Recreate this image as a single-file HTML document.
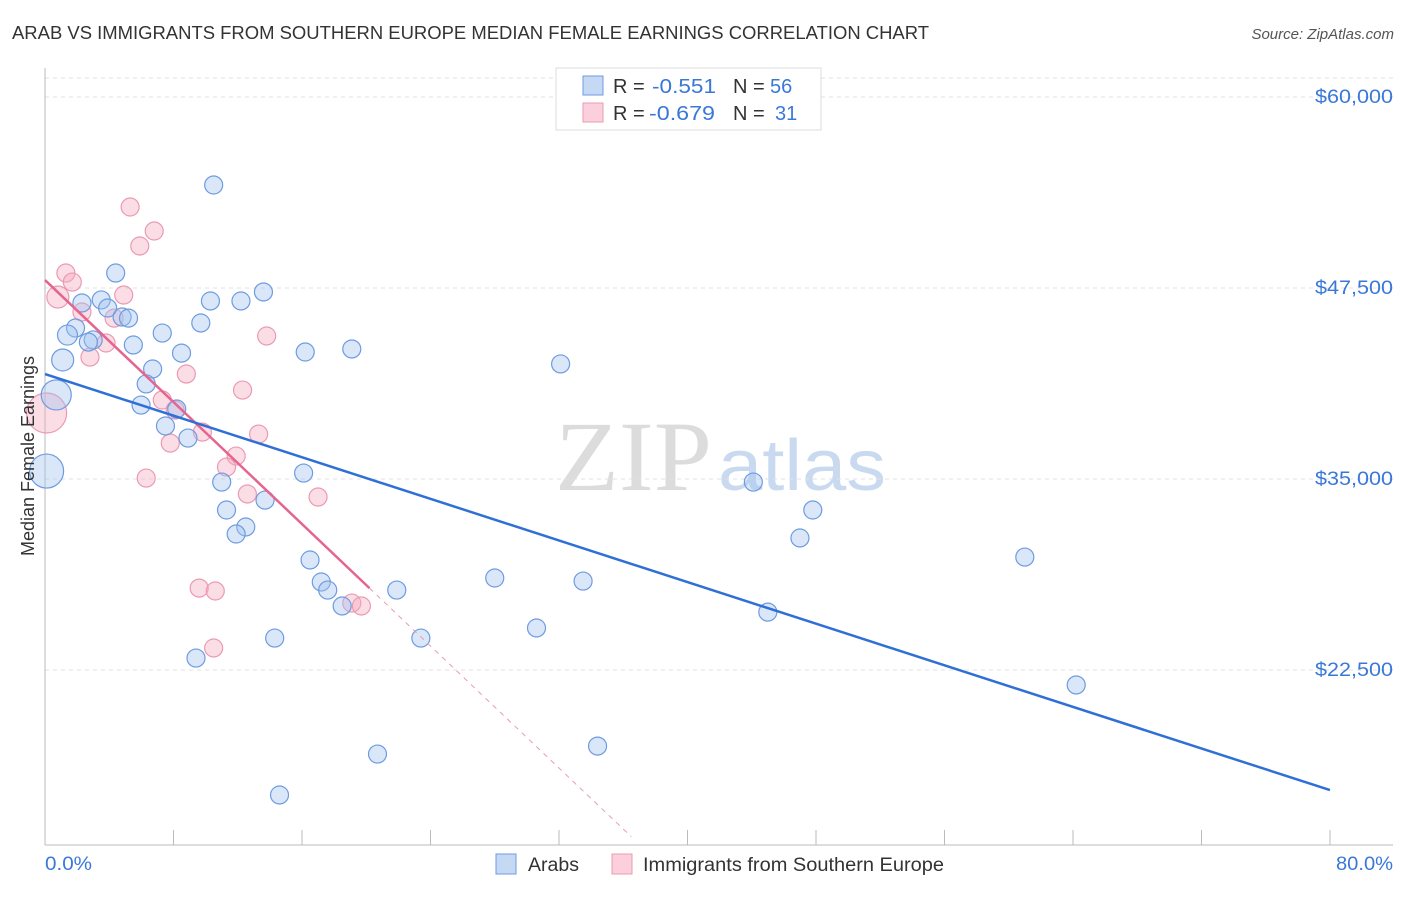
<!DOCTYPE html>
<html><head><meta charset="utf-8"><style>
body{margin:0;background:#fff;font-family:"Liberation Sans",sans-serif;}
</style></head><body>
<svg width="1406" height="892" id="chart" font-family="Liberation Sans, sans-serif">
<text x="12" y="39" font-size="18" fill="#333" textLength="917" lengthAdjust="spacingAndGlyphs">ARAB VS IMMIGRANTS FROM SOUTHERN EUROPE MEDIAN FEMALE EARNINGS CORRELATION CHART</text>
<text x="1394" y="39" font-size="15" fill="#555" text-anchor="end" font-style="italic">Source: ZipAtlas.com</text>
<text x="555" y="490" font-size="100" fill="#dcdcdc" textLength="157" lengthAdjust="spacingAndGlyphs" style="font-family:'Liberation Serif',serif">ZIP</text>
<text x="718" y="490" font-size="72" fill="#c9daf0" textLength="168" lengthAdjust="spacingAndGlyphs">atlas</text>
<g id="grid"></g>
<g id="marks"></g>
<text transform="translate(34,456) rotate(-90)" font-size="18" fill="#333" text-anchor="middle">Median Female Earnings</text>
<text x="45" y="870" font-size="19" fill="#3a78d8" textLength="47" lengthAdjust="spacingAndGlyphs">0.0%</text>
<text x="1336" y="870" font-size="19" fill="#3a78d8" textLength="57" lengthAdjust="spacingAndGlyphs">80.0%</text>
<g>
<rect x="556" y="68" width="265" height="62" fill="#fff" stroke="#ddd"/>
<rect x="583" y="76" width="20" height="19" fill="#c5d9f5" stroke="#6e9be0"/>
<rect x="583" y="103" width="20" height="19" fill="#fbd0dc" stroke="#eb9ab3"/>
<text x="613" y="93" font-size="20" fill="#333">R = </text><text x="652" y="93" font-size="20" fill="#3a78d8" textLength="64" lengthAdjust="spacingAndGlyphs">-0.551</text>
<text x="733" y="93" font-size="20" fill="#333">N = </text><text x="770" y="93" font-size="20" fill="#3a78d8">56</text>
<text x="613" y="120" font-size="20" fill="#333">R = </text><text x="649" y="120" font-size="20" fill="#3a78d8" textLength="66" lengthAdjust="spacingAndGlyphs">-0.679</text>
<text x="733" y="120" font-size="20" fill="#333">N = </text><text x="775" y="120" font-size="20" fill="#3a78d8">31</text>
</g>
<g>
<rect x="496" y="854" width="20" height="20" fill="#c5d9f5" stroke="#6e9be0"/>
<text x="528" y="871" font-size="19" fill="#333" textLength="51" lengthAdjust="spacingAndGlyphs">Arabs</text>
<rect x="612" y="854" width="20" height="20" fill="#fbd0dc" stroke="#eb9ab3"/>
<text x="643" y="871" font-size="19" fill="#333" textLength="301" lengthAdjust="spacingAndGlyphs">Immigrants from Southern Europe</text>
</g>
</svg>
<script>
const yTicks=[60000,47500,35000,22500];
const yTickLabels=["$60,000","$47,500","$35,000","$22,500"];
const xTicks=[0,8,16,24,32,40,48,56,64,72,80];
const arabX=[10.5,4.4,2.3,3.5,10.3,12.2,13.6,3.9,4.8,5.2,1.9,1.4,3.0,2.7,7.3,5.5,9.7,8.5,1.1,16.2,19.1,32.1,6.7,6.3,0.7,5.98,8.2,7.5,8.9,0.1,16.1,11.0,44.1,13.7,11.3,47.8,12.5,11.9,47.0,16.5,61.0,28.0,33.5,17.2,17.6,21.9,18.5,45.0,30.6,14.3,23.4,9.4,64.2,34.4,20.7,14.6];
const arabY=[54240,48480,46520,46720,46650,46650,47240,46190,45600,45530,44880,44420,44100,43960,44550,43770,45210,43240,42790,43310,43510,42530,42200,41220,40500,39840,39580,38470,37680,35520,35390,34800,34800,33620,32970,32970,31860,31400,31140,29700,29890,28520,28320,28260,27730,27730,26690,26290,25250,24590,24590,23280,21520,17520,17000,14320];
const arabR=[9,9,9,9,9,9,9,9,9,9,9,10,9,9,9,9,9,9,11,9,9,9,9,9,15,9,9,9,9,17,9,9,9,9,9,9,9,9,9,9,9,9,9,9,9,9,9,9,9,9,9,9,9,9,9,9];
const euroX=[5.3,6.8,5.9,1.3,1.7,0.8,4.9,2.3,4.3,13.8,3.8,2.8,8.8,12.3,7.3,8.1,0.1,7.8,9.8,13.3,11.9,11.3,6.3,12.6,17.0,9.6,10.6,19.1,19.7,10.5];
const euroY=[52800,51230,50250,48480,47890,46910,47040,45930,45530,44360,43900,42980,41870,40820,40170,39510,39320,37350,38070,37940,36500,35780,35060,34020,33820,27860,27670,26880,26690,23940];
const euroR=[9,9,9,9,9,11,9,9,9,9,9,9,9,9,9,9,20,9,9,9,9,9,9,9,9,9,9,9,9,9];
const arabTrend=[0,41870,80,14640];
const euroTrend=[0,48020,20.2,27860,36.5];
const NS="http://www.w3.org/2000/svg";
const X=v=>45+v*(1285/80);
const Y=v=>97+(60000-v)*191/12500;
function mk(t,a,p){const e=document.createElementNS(NS,t);for(const k in a)e.setAttribute(k,a[k]);p.appendChild(e);return e;}
const grid=document.getElementById('grid'),marks=document.getElementById('marks');
let g=mk('line',{x1:45,x2:1393,y1:78,y2:78,stroke:'#e0e0e0','stroke-dasharray':'4,4'},grid);


yTicks.forEach((t,i)=>{
 const l=mk('line',{x1:45,x2:1393,y1:Y(t),y2:Y(t),stroke:'#e0e0e0','stroke-dasharray':'4,4'},grid);
 
 
 const tx=mk('text',{x:1393,y:Y(t)+6,'font-size':19,fill:'#3a78d8','text-anchor':'end',textLength:78,lengthAdjust:'spacingAndGlyphs'},grid);
 tx.textContent=yTickLabels[i];
 
 
});
const ax=mk('line',{x1:45,x2:1393,y1:845,y2:845,stroke:'#bbb'},grid);


const ay=mk('line',{x1:45,x2:45,y1:68,y2:845,stroke:'#bbb'},grid);


xTicks.forEach(t=>{
 const l=mk('line',{x1:X(t),x2:X(t),y1:830,y2:845,stroke:'#bbb'},grid);
 
 
});
euroX.forEach((v,i)=>{
 const c=mk('circle',{cx:X(v),cy:Y(euroY[i]),r:euroR[i],fill:'rgba(246,170,193,0.4)',stroke:'#eb9ab3','stroke-width':1.2},marks);
 
 
});
arabX.forEach((v,i)=>{
 const c=mk('circle',{cx:X(v),cy:Y(arabY[i]),r:arabR[i],fill:'rgba(160,195,240,0.4)',stroke:'#6e9be0','stroke-width':1.2},marks);
 
 
});
const s=(euroTrend[3]-euroTrend[1])/(euroTrend[2]-euroTrend[0]);
const d=mk('line',{x1:X(euroTrend[2]),y1:Y(euroTrend[3]),x2:X(euroTrend[4]),y2:Y(euroTrend[1]+s*euroTrend[4]),stroke:'#eb9ab3','stroke-dasharray':'5,5'},marks);


const pl=mk('line',{x1:X(euroTrend[0]),y1:Y(euroTrend[1]),x2:X(euroTrend[2]),y2:Y(euroTrend[3]),stroke:'#e56490','stroke-width':2.5},marks);


const bl=mk('line',{x1:X(arabTrend[0]),y1:Y(arabTrend[1]),x2:X(arabTrend[2]),y2:Y(arabTrend[3]),stroke:'#2f6fd6','stroke-width':2.5},marks);


</script>
</body></html>
